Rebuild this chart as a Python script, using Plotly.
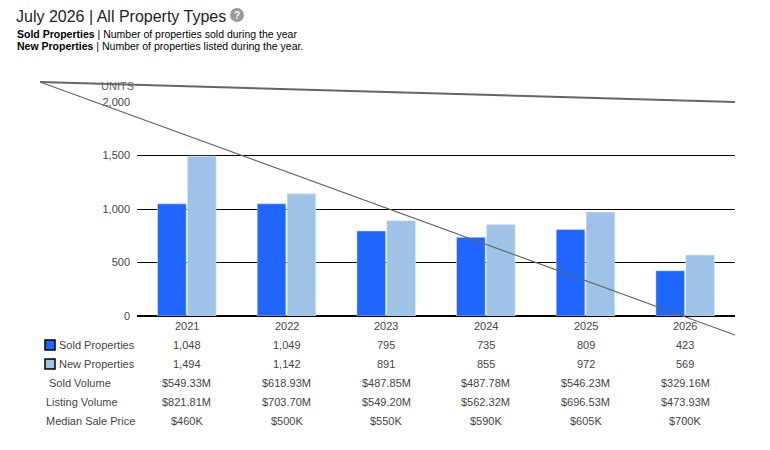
import plotly.graph_objects as go

years = ["2021", "2022", "2023", "2024", "2025", "2026"]
sold = [1048, 1049, 795, 735, 809, 423]
new = [1494, 1142, 891, 855, 972, 569]
sold_volume = ["$549.33M", "$618.93M", "$487.85M", "$487.78M", "$546.23M", "$329.16M"]
listing_volume = ["$821.81M", "$703.70M", "$549.20M", "$562.32M", "$696.53M", "$473.93M"]
median_price = ["$460K", "$500K", "$550K", "$590K", "$605K", "$700K"]
y_ticks = [0, 500, 1000, 1500, 2000]

OFF = 8  # page body margin
W, H = 770 - 2 * OFF, 450 - 2 * OFF
L, R, T, B = 137, 735, 102, 316


def px(x):
    return (x - L) / (R - L)


def py(y):
    return (B - y) / (B - T)


def note(x, y, text, xref="paper", size=11, color="#444", xanchor="center"):
    return dict(x=x, y=y, xref=xref, yref="paper", text=text, showarrow=False,
                xanchor=xanchor, yanchor="middle", font=dict(size=size, color=color))


txt = "#444"
fig = go.Figure()
fig.add_bar(x=years, y=sold, name="Sold Properties", marker_color="#1f66ff")
fig.add_bar(x=years, y=new, name="New Properties", marker_color="#9fc3e6")

ann = []
shapes = []
rows = [
    ("Sold Properties", [f"{v:,}" for v in sold], 345, 57),
    ("New Properties", [f"{v:,}" for v in new], 364, 57),
    ("Sold Volume", sold_volume, 383, 47),
    ("Listing Volume", listing_volume, 402, 44),
    ("Median Sale Price", median_price, 421, 44),
]
for i, yr in enumerate(years):
    ann.append(note(i, py(326), yr, xref="x"))
for label, vals, ypix, lx in rows:
    ann.append(note(px(lx), py(ypix), label, xanchor="left"))
    for i, v in enumerate(vals):
        ann.append(note(i, py(ypix), v, xref="x"))
for ypix, col in [(345, "#1f66ff"), (364, "#9fc3e6")]:
    shapes.append(dict(type="rect", xref="paper", yref="paper", x0=px(45), x1=px(55),
                       y0=py(ypix + 5), y1=py(ypix - 5), fillcolor=col, line=dict(color="black", width=1.5)))

ann.append(note(px(136), py(86), "UNITS", color="#666", xanchor="right"))
ann.append(note(px(14), py(17), "July 2026 | All Property Types", size=16, color="#222", xanchor="left"))
shapes.append(dict(type="circle", xref="paper", yref="paper", x0=px(230), x1=px(244),
                   y0=py(22), y1=py(8), fillcolor="#999", line=dict(width=0)))
ann.append(note(px(237), py(15), "<b>?</b>", size=10, color="white"))
ann.append(note(px(15), py(34), "<b>Sold Properties</b> | Number of properties sold during the year",
                size=10.5, color="black", xanchor="left"))
ann.append(note(px(15), py(46), "<b>New Properties</b> | Number of properties listed during the year.",
                size=10.5, color="black", xanchor="left"))

# stray diagonal lines seen in the reference
shapes.append(dict(type="line", xref="paper", yref="paper", x0=px(40), y0=py(82), x1=px(735), y1=py(102),
                   line=dict(color="#666", width=2)))
shapes.append(dict(type="line", xref="paper", yref="paper", x0=px(40), y0=py(82), x1=px(735), y1=py(335),
                   line=dict(color="#666", width=1.2)))

fig.update_layout(
    width=W, height=H,
    margin=dict(l=L - OFF, r=770 - OFF - R, t=T - OFF, b=450 - OFF - B),
    paper_bgcolor="white", plot_bgcolor="white",
    font=dict(family="Liberation Sans, Arial", size=11, color=txt),
    barmode="group", bargap=0.4, bargroupgap=0.04,
    showlegend=False,
    xaxis=dict(type="category", showticklabels=False, showgrid=False),
    yaxis=dict(range=[0, 2000], tickvals=y_ticks, tickformat=",", gridcolor="black",
               zeroline=True, zerolinecolor="black", zerolinewidth=1.5, ticks="",
               ticklabelstandoff=6),
    annotations=ann, shapes=shapes,
)

fig.write_html("out.html")
